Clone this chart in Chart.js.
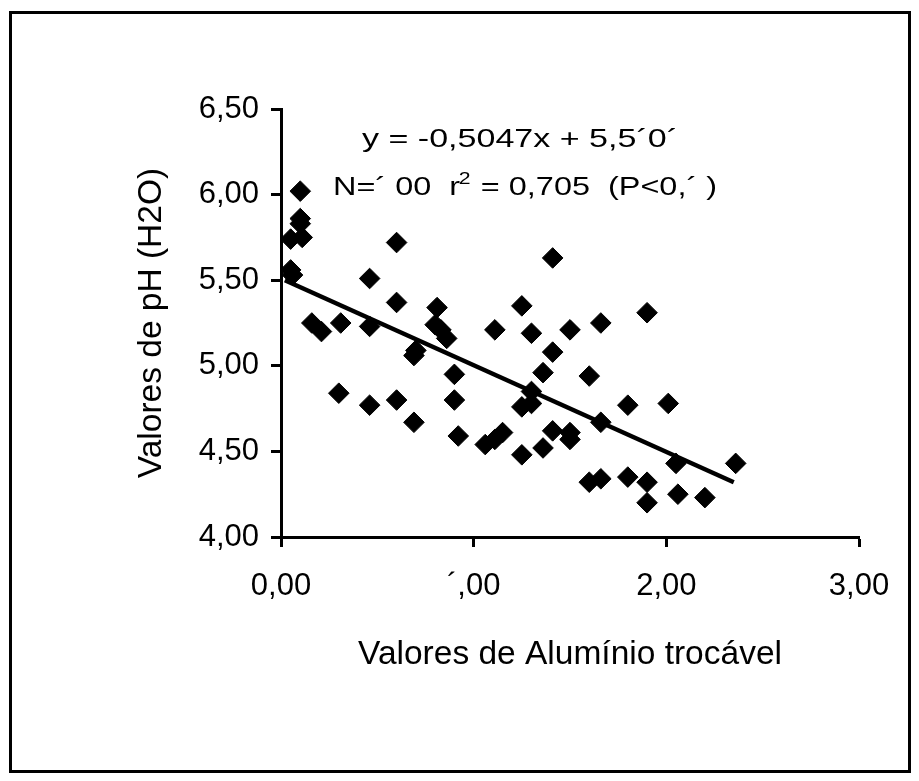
<!DOCTYPE html>
<html>
<head>
<meta charset="utf-8">
<script src="https://cdn.jsdelivr.net/npm/chart.js@4.4.1/dist/chart.umd.min.js"></script>
<style>
html,body{margin:0;padding:0;background:#fff;}
#frame{position:absolute;left:9px;top:11px;width:902px;height:762px;border:3px solid #000;box-sizing:border-box;}
#wrap{position:absolute;left:0;top:0;width:919px;height:781px;}
</style>
</head>
<body>
<div id="frame"></div>
<div id="wrap"><canvas id="c" width="919" height="781"></canvas></div>
<script>
// ---- data ----
const aluminio = [0.10,0.10,0.10,0.05,0.11,0.05,0.06,0.60,0.46,0.60,0.81,0.80,0.83,0.86,0.16,0.21,0.31,0.46,0.70,0.69,
                  0.90,0.30,0.46,0.60,0.90,0.69,0.92,1.06,1.11,1.15,1.41,1.25,1.90,1.11,1.30,1.50,1.66,1.41,1.36,1.60,
                  1.30,1.25,1.30,1.80,2.01,1.66,1.41,1.50,1.50,1.25,1.36,2.05,2.36,1.60,1.66,1.80,1.90,1.90,2.06,2.20];
const ph       = [6.02,5.86,5.83,5.74,5.75,5.56,5.53,5.72,5.51,5.37,5.34,5.24,5.21,5.16,5.25,5.20,5.25,5.23,5.09,5.06,
                  4.95,4.84,4.77,4.80,4.80,4.67,4.59,4.54,4.57,4.61,5.63,5.35,5.31,5.21,5.19,5.21,5.25,5.08,4.96,4.94,
                  4.85,4.76,4.78,4.77,4.78,4.67,4.62,4.61,4.57,4.48,4.52,4.43,4.43,4.32,4.34,4.35,4.32,4.20,4.25,4.23];
const trendX = [0.02, 2.35];
const trendY = [5.50, 4.32];
const xTickValues = [0, 1, 2, 3];
const xTickLabels = ["0,00", "\u00B4,00", "2,00", "3,00"];
const yTickValues = [4.0, 4.5, 5.0, 5.5, 6.0, 6.5];
const yTickLabels = ["4,00", "4,50", "5,00", "5,50", "6,00", "6,50"];
const xTitle = "Valores de Alum\u00EDnio troc\u00E1vel";
const yTitle = "Valores de pH (H2O)";
const eqLine1 = "y = -0,5047x + 5,5\u00B40\u00B4";
const eqLine2a = "N=\u00B4 00  r";
const eqLine2sup = "2";
const eqLine2b = " = 0,705  (P<0,\u00B4 )";

const FONT = "'Liberation Sans', Arial, Helvetica, sans-serif";

const eqPlugin = {
  id: 'eq',
  afterDraw(chart) {
    const ctx = chart.ctx;
    ctx.save();
    ctx.fillStyle = '#000';
    ctx.textBaseline = 'alphabetic';
    ctx.textAlign = 'left';
    // line 1
    ctx.font = "26px " + FONT;
    let w1 = ctx.measureText(eqLine1).width;
    const L1 = 362, R1 = 678;
    ctx.save();
    ctx.translate(L1, 147);
    ctx.scale((R1 - L1) / w1, 1);
    ctx.fillText(eqLine1, 0, 0);
    ctx.restore();
    // line 2
    ctx.font = "26px " + FONT;
    const wa = ctx.measureText(eqLine2a).width;
    const wb = ctx.measureText(eqLine2b).width;
    ctx.font = "17px " + FONT;
    const ws = ctx.measureText(eqLine2sup).width;
    const total = wa + ws + wb;
    const L2 = 333, R2 = 717;
    ctx.save();
    ctx.translate(L2, 195);
    ctx.scale((R2 - L2) / total, 1);
    ctx.font = "26px " + FONT;
    ctx.fillText(eqLine2a, 0, 0);
    ctx.font = "17px " + FONT;
    ctx.fillText(eqLine2sup, wa - 1, -11);
    ctx.font = "26px " + FONT;
    ctx.fillText(eqLine2b, wa + ws, 0);
    ctx.restore();
    ctx.restore();
  }
};

const points = aluminio.map((v, i) => ({x: v, y: ph[i]}));
const trend = trendX.map((v, i) => ({x: v, y: trendY[i]}));

new Chart(document.getElementById('c'), {
  type: 'scatter',
  data: {
    datasets: [
      {
        type: 'line',
        data: trend,
        borderColor: '#000',
        borderWidth: 4.5,
        pointRadius: 0,
        fill: false,
        showLine: true
      },
      {
        data: points,
        pointStyle: 'rectRot',
        pointRadius: 10.3,
        pointHoverRadius: 10.3,
        backgroundColor: '#000',
        borderColor: '#000',
        borderWidth: 1
      }
    ]
  },
  options: {
    responsive: false,
    animation: false,
    events: [],
    layout: { padding: { left: 120, top: 109, right: 60, bottom: 0 } },
    plugins: { legend: { display: false }, tooltip: { enabled: false } },
    scales: {
      x: {
        type: 'linear',
        min: 0, max: 3,
        afterBuildTicks: s => { s.ticks = xTickValues.map(v => ({value: v})); },
        afterFit: s => { s.height = 244; },
        ticks: {
          callback: (v, i) => xTickLabels[i],
          font: { family: FONT, size: 31 },
          color: '#000',
          padding: 21,
          maxRotation: 0,
          autoSkip: false
        },
        grid: { drawOnChartArea: false, drawTicks: true, tickLength: 10, tickColor: '#000', tickWidth: 3 },
        border: { display: true, color: '#000', width: 3 },
        title: {
          display: true, text: xTitle, color: '#000',
          font: { family: FONT, size: 33.5 },
          padding: { top: 0, bottom: 106 }
        }
      },
      y: {
        type: 'linear',
        min: 4, max: 6.5,
        afterBuildTicks: s => { s.ticks = yTickValues.map(v => ({value: v})); },
        afterFit: s => { s.width = 161; },
        ticks: {
          callback: (v, i) => yTickLabels[i],
          font: { family: FONT, size: 31 },
          color: '#000',
          padding: 12,
          autoSkip: false
        },
        grid: { drawOnChartArea: false, drawTicks: true, tickLength: 10, tickColor: '#000', tickWidth: 3 },
        border: { display: true, color: '#000', width: 3 },
        title: {
          display: true, text: yTitle, color: '#000',
          font: { family: FONT, size: 33.5 },
          padding: { top: 12, bottom: 0 }
        }
      }
    }
  },
  plugins: [eqPlugin]
});
</script>
</body>
</html>
